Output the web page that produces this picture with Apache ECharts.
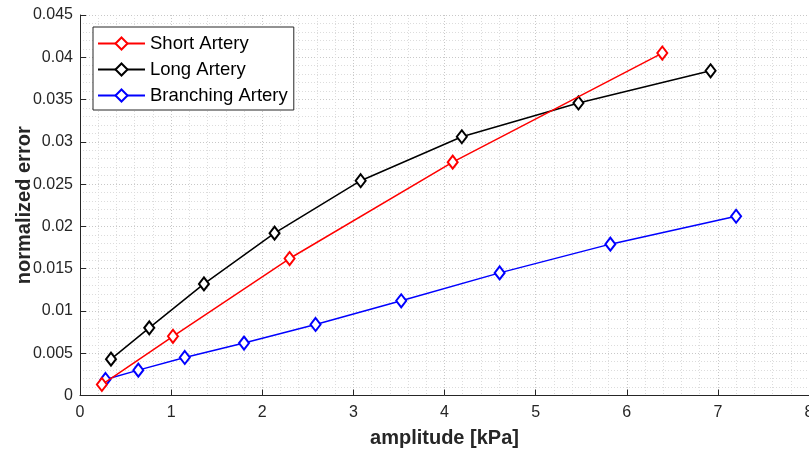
<!DOCTYPE html>
<html>
<head>
<meta charset="utf-8">
<script src="https://cdn.jsdelivr.net/npm/echarts@6/dist/echarts.min.js"></script>
<style>html,body{margin:0;padding:0;background:#fff}#c{width:809px;height:451px}</style>
</head>
<body>
<div id="c"></div>
<script>
const seriesNames = ['Short Artery', 'Long Artery', 'Branching Artery'];
const shortX = [0.24, 1.02, 2.30, 4.09, 6.39];
const shortY = [0.0013, 0.0070, 0.0162, 0.0276, 0.0405];
const longX = [0.34, 0.76, 1.36, 2.135, 3.08, 4.19, 5.47, 6.92];
const longY = [0.0043, 0.0080, 0.0132, 0.0192, 0.0254, 0.0306, 0.0346, 0.0384];
const branchX = [0.28, 0.64, 1.15, 1.80, 2.585, 3.525, 4.605, 5.82, 7.20];
const branchY = [0.0019, 0.0030, 0.0045, 0.0062, 0.0084, 0.0112, 0.0145, 0.0179, 0.0212];
const xTicks = {min: 0, max: 8, interval: 1};
const yTicks = {min: 0, max: 0.045, interval: 0.005};
const colors = ['#ff0000', '#000000', '#0000ff'];

function pairs(xs, ys) { return xs.map((x, i) => [x, ys[i]]); }
const datasets = [pairs(shortX, shortY), pairs(longX, longY), pairs(branchX, branchY)];

const axisColor = '#262626';
const chart = echarts.init(document.getElementById('c'), null, {renderer: 'canvas'});
chart.setOption({
  animation: false,
  backgroundColor: '#fff',
  grid: {left: 80, right: 0, top: 15, bottom: 55.5, containLabel: false, outerBoundsMode: 'none'},
  legend: {
    orient: 'vertical', left: 93, top: 27,
    itemWidth: 47, itemHeight: 15, itemGap: 7,
    padding: [7, 6, 5, 4],
    backgroundColor: '#fff', borderColor: axisColor, borderWidth: 1,
    textStyle: {fontFamily: 'Liberation Sans, Arial', fontSize: 18.5, color: '#000', lineHeight: 18},
    data: seriesNames
  },
  xAxis: {
    type: 'value', min: xTicks.min, max: xTicks.max, interval: xTicks.interval,
    name: 'amplitude [kPa]', nameLocation: 'middle', nameGap: 33, nameMoveOverlap: false,
    nameTextStyle: {fontFamily: 'Liberation Sans, Arial', fontSize: 20, fontWeight: 'bold', color: axisColor},
    axisLine: {lineStyle: {color: axisColor, width: 1}},
    axisTick: {inside: true, length: 6, lineStyle: {color: axisColor}},
    axisLabel: {fontFamily: 'Liberation Sans, Arial', fontSize: 16, color: axisColor, margin: 9},
    splitLine: {show: true, lineStyle: {color: '#c8c8c8', type: [1, 2], width: 1}},
    minorTick: {show: false, splitNumber: 5},
    minorSplitLine: {show: true, lineStyle: {color: '#dcdcdc', type: [1, 2], width: 1}}
  },
  yAxis: {
    type: 'value', min: yTicks.min, max: yTicks.max, interval: yTicks.interval,
    name: 'normalized error', nameLocation: 'middle', nameGap: 46, nameMoveOverlap: false,
    nameTextStyle: {fontFamily: 'Liberation Sans, Arial', fontSize: 20, fontWeight: 'bold', color: axisColor},
    axisLine: {show: true, lineStyle: {color: axisColor, width: 1}},
    axisTick: {show: true, inside: true, length: 6, lineStyle: {color: axisColor}},
    axisLabel: {fontFamily: 'Liberation Sans, Arial', fontSize: 16, color: axisColor, margin: 7},
    splitLine: {show: true, lineStyle: {color: '#c8c8c8', type: [1, 2], width: 1}},
    minorTick: {show: false, splitNumber: 5},
    minorSplitLine: {show: true, lineStyle: {color: '#dcdcdc', type: [1, 2], width: 1}}
  },
  series: seriesNames.map((name, i) => ({
    name: name, type: 'line', data: datasets[i],
    symbol: 'emptyDiamond', symbolSize: [10, 13],
    lineStyle: {color: colors[i], width: 1.5},
    itemStyle: {color: colors[i], borderColor: colors[i], borderWidth: 1.5},
    z: 3 - i
  }))
});
</script>
</body>
</html>
